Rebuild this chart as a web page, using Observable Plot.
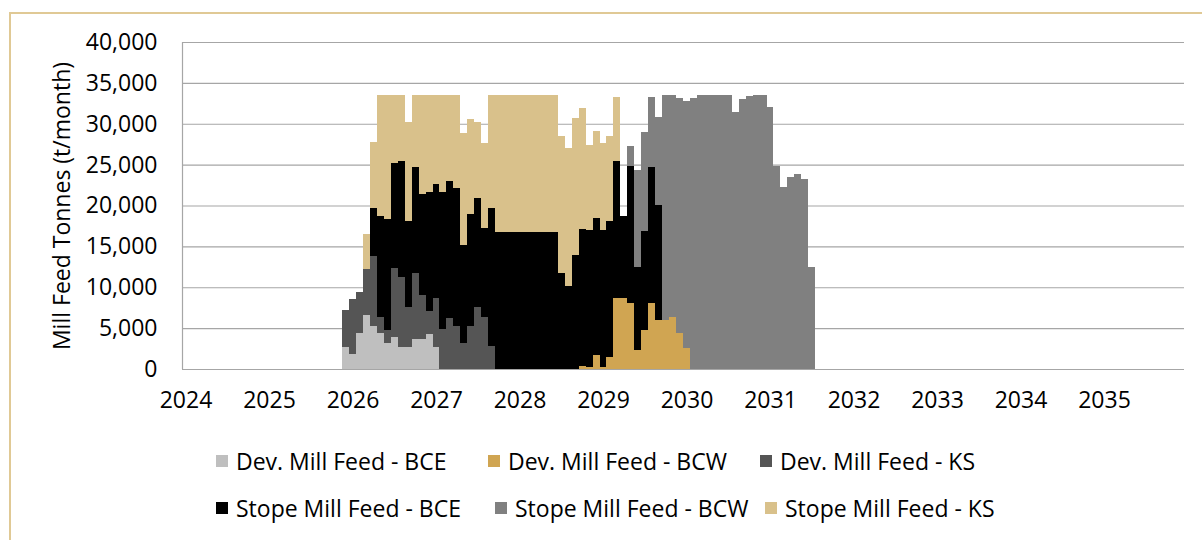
<!DOCTYPE html>
<html>
<head>
<meta charset="utf-8">
<script src="https://cdn.jsdelivr.net/npm/d3@7"></script>
<script src="https://cdn.jsdelivr.net/npm/@observablehq/plot@0.6"></script>
<style>
  html, body { margin: 0; padding: 0; background: #fff; }
  body { font-family: "Open Sans", Lato, sans-serif; }
  #wrap { position: relative; width: 1202px; height: 540px; overflow: hidden; background: #fff; }
  #frame { position: absolute; left: 9px; top: 12px; width: 1400px; height: 700px;
           border-left: 2px solid #E0C995; border-top: 2px solid #E0C995; box-sizing: border-box; }
  #chart { position: absolute; left: 0; top: 0; }
  .leg { position: absolute; display: flex; align-items: center; height: 30px;
         font-size: 23px; color: #000; white-space: nowrap; }
  .sw { width: 12px; height: 12px; margin-right: 8px; flex: none; }
</style>
</head>
<body>
<div id="wrap">
  <div id="frame"></div>
  <div id="chart"></div>
</div>
<script>
// ---- Data (t/month), monthly from Dec 2025 (first value) onward ----
const firstMonth = { year: 2025, month: 12 };
const seriesNames = [
  "Dev. Mill Feed - BCE",
  "Dev. Mill Feed - BCW",
  "Dev. Mill Feed - KS",
  "Stope Mill Feed - BCE",
  "Stope Mill Feed - BCW",
  "Stope Mill Feed - KS"
];
const seriesColors = ["#BFBFBF", "#D0A552", "#555555", "#000000", "#808080", "#D9C18B"];

const devBCE = [2650,1830,4360,6560,5300,4360,3140,3910,2650,2650,3710,3710,4280,2650];
const devBCW = [0,0,0,0,0,0,0,0,0,0,0,0,0,0,0,0,0,0,0,0,0,0,0,0,0,0,0,0,0,0,0,0,0,0,
                370,200,1710,290,1430,8640,8640,8110,2320,4770,8030,5990,5990,6320,4360,2530];
const devKS  = [4560,6760,5010,5660,8560,2000,1630,8480,8640,4890,7990,5340,2810,5990,
                4890,6190,5300,3140,5300,7540,6360,2850];
const stopeBCE = [0,0,0,0,5790,12350,13610,12750,14140,10600,13040,12350,14590,13940,
                  16790,16790,16790,12060,13650,13330,10920,16790,
                  16710,16710,16710,16710,16710,16710,16710,16710,16710,
                  11780,10190,13940,16750,16790,16790,16710,16710,16830,10070,
                  16710,10190,12140,16710,14060];
const stopeBCW = [0,0,0,0,0,0,0,0,0,0,0,0,0,0,0,0,0,0,0,0,0,0,0,0,0,0,0,0,0,0,0,0,0,0,
                  0,0,0,0,0,0,0,2490,11820,12020,8560,10800,
                  27510,27180,28730,30240,33090,33500,33500,33500,33500,33500,
                  31460,32970,33420,33500,33500,31990,24820,22290,23510,23800,23230,12510];
const stopeKS = [0,0,0,4280,8150,14790,15120,8350,8070,12020,8760,12100,11820,10920,
                 11820,10510,11410,13610,11570,9290,10390,13860,
                 16790,16790,16790,16790,16790,16790,16790,16790,16790,
                 16750,16790,16790,14830,10390,10600,10680,10390,7820];

const yTicks = [0,5000,10000,15000,20000,25000,30000,35000,40000];
const yearLabels = [2024,2025,2026,2027,2028,2029,2030,2031,2032,2033,2034,2035];

// ---- Build table: month index 0 = Jan 2024 ----
const seriesValues = [devBCE, devBCW, devKS, stopeBCE, stopeBCW, stopeKS];
const offset = (firstMonth.year - 2024) * 12 + (firstMonth.month - 1);
const nMonths = d3.max(seriesValues, a => a.length);
const rows = [];
for (let k = 0; k < nMonths; k++) {
  seriesNames.forEach((name, s) => {
    const v = seriesValues[s][k] || 0;
    rows.push({ m: offset + k, series: name, value: v });
  });
}
const xTickPos = yearLabels.map(y => (y - 2024) * 12 + 0.5);

const chart = Plot.plot({
  width: 1202,
  height: 430,
  marginLeft: 182,
  marginRight: 18,
  marginTop: 42,
  marginBottom: 61,
  style: { fontFamily: "'Open Sans', Lato, sans-serif", fontSize: "23px", color: "#000", background: "transparent" },
  x: { domain: [0, 144], axis: null },
  y: { domain: [0, 40000], axis: null },
  color: { domain: seriesNames, range: seriesColors },
  marks: [
    Plot.ruleY(yTicks, { stroke: "#A6A6A6", strokeWidth: 1.2 }),
    Plot.rectY(rows, {
      x1: "m", x2: d => d.m + 1, y: "value", fill: "series",
      order: seriesNames, shapeRendering: "crispEdges"
    }),
    Plot.ruleX([0], { stroke: "#A6A6A6", strokeWidth: 1.2 }),
    Plot.axisY(yTicks, { tickSize: 0, tickPadding: 25, tickFormat: d3.format(","), label: null, fontSize: 23 }),
    Plot.axisX(xTickPos, { tickSize: 0, tickPadding: 22, tickFormat: d => String(2024 + Math.floor(d / 12)), label: null, fontSize: 23 }),
    Plot.text(["Mill Feed Tonnes (t/month)"], { frameAnchor: "left", textAnchor: "middle", rotate: -90, dx: -120, fontSize: 23, fill: "#000" })
  ]
});
document.getElementById("chart").appendChild(chart);

// ---- Legend (HTML, below the SVG) ----
const legendPos = [
  { left: 216, top: 446 }, { left: 488, top: 446 }, { left: 760, top: 446 },
  { left: 216, top: 493 }, { left: 495, top: 493 }, { left: 765, top: 493 }
];
const wrap = document.getElementById("wrap");
seriesNames.forEach((name, i) => {
  const item = document.createElement("div");
  item.className = "leg";
  item.style.left = legendPos[i].left + "px";
  item.style.top = legendPos[i].top + "px";
  const sw = document.createElement("span");
  sw.className = "sw";
  sw.style.background = seriesColors[i];
  const label = document.createElement("span");
  label.textContent = name;
  item.appendChild(sw);
  item.appendChild(label);
  wrap.appendChild(item);
});
</script>
</body>
</html>
